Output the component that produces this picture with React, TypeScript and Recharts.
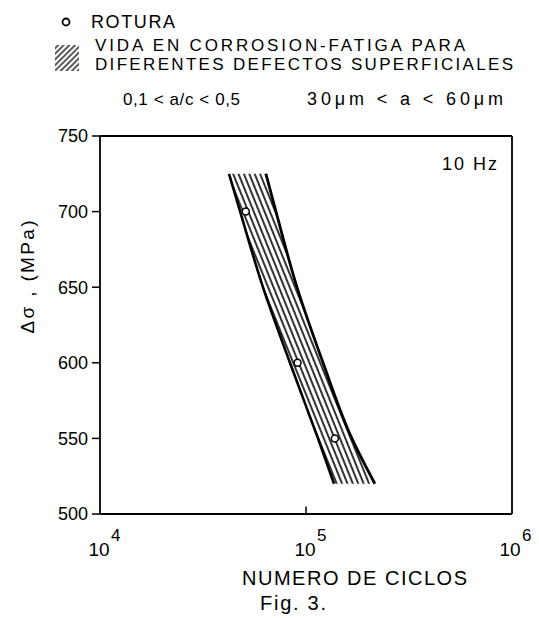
import React from 'react';
import { ComposedChart, Area, Line, Scatter, XAxis, YAxis, ReferenceLine } from 'recharts';

// stress range (MPa) along the band, and the cycle counts of its two edges
const bandStress = [725, 700, 650, 600, 550, 520];
const bandLeft = [42300, 47900, 61800, 83600, 114300, 136800];
const bandRight = [63900, 71500, 90400, 121000, 167000, 216000];

// rotura points
const ruptureCycles = [51000, 91000, 138000];
const ruptureStress = [700, 600, 550];

const xTicks = [1e4, 1e5, 1e6];
const xTickExp = ['4', '5', '6'];
const yTicks = [500, 550, 600, 650, 700, 750];

const band = bandStress.map((s, i) => ({
  s,
  range: [bandLeft[i], bandRight[i]],
  left: bandLeft[i],
  right: bandRight[i],
}));
const rupture = ruptureCycles.map((n, i) => ({ n, s: ruptureStress[i] }));

const font = '"Liberation Sans", Arial, sans-serif';

const LogTick = (props: any) => {
  const { x, y, payload } = props;
  const exp = xTickExp[xTicks.indexOf(payload.value)];
  return (
    <g fontFamily={font} fill="#000">
      <text x={x - 1} y={y + 34} textAnchor="middle" fontSize={19}>10</text>
      <text x={x + 11} y={y + 19} fontSize={17}>{exp}</text>
    </g>
  );
};

const Ring = (props: any) => (
  <circle cx={props.cx} cy={props.cy} r={3.5} fill="#fff" stroke="#000" strokeWidth={1.5} />
);

export default function App() {
  return (
    <div style={{ position: 'absolute', left: 0, top: 0, background: '#fff' }}>
      <ComposedChart
        width={539}
        height={618}
        layout="vertical"
        data={band}
        margin={{ top: 136, right: 27, bottom: 54, left: 0 }}
      >
        <defs>
          <pattern id="hatch" patternUnits="userSpaceOnUse" width={5} height={5} patternTransform="rotate(-22)">
            <line x1={1} y1={0} x2={1} y2={5} stroke="#000" strokeWidth={1.6} />
          </pattern>
          <pattern id="hatchLegend" patternUnits="userSpaceOnUse" width={4} height={4} patternTransform="rotate(45)">
            <line x1={1} y1={0} x2={1} y2={4} stroke="#000" strokeWidth={1.3} />
          </pattern>
        </defs>

        <XAxis
          type="number"
          dataKey="n"
          scale="log"
          domain={[1e4, 1e6]}
          ticks={xTicks}
          tick={<LogTick />}
          tickLine={false}
          axisLine={{ stroke: '#000', strokeWidth: 1.8 }}
          height={50}
          allowDataOverflow
        />
        <YAxis
          type="number"
          dataKey="s"
          domain={[500, 750]}
          ticks={yTicks}
          reversed
          width={100}
          tickSize={8}
          tickMargin={4}
          tick={{ fill: '#000', fontSize: 18, fontFamily: font }}
          tickLine={{ stroke: '#000', strokeWidth: 1.5 }}
          axisLine={{ stroke: '#000', strokeWidth: 1.8 }}
          allowDataOverflow
        />

        <ReferenceLine y={750} stroke="#000" strokeWidth={1.8} />
        <ReferenceLine x={1e6} stroke="#000" strokeWidth={1.8} />
        <ReferenceLine
          segment={[{ x: 1e5, y: 500 }, { x: 1e5, y: 505 }]}
          stroke="#000"
          strokeWidth={1.5}
        />

        <Area
          dataKey="range"
          type="monotone"
          stroke="none"
          fill="url(#hatch)"
          fillOpacity={1}
          isAnimationActive={false}
        />
        <Line dataKey="left" type="monotone" stroke="#000" strokeWidth={2.6} dot={false} isAnimationActive={false} />
        <Line dataKey="right" type="monotone" stroke="#000" strokeWidth={2.8} dot={false} isAnimationActive={false} />
        <Scatter data={rupture} dataKey="s" shape={<Ring />} isAnimationActive={false} />

        {/* legend and annotations */}
        <g fontFamily={font} fill="#000">
          <circle cx={66} cy={22} r={3.5} fill="#fff" stroke="#000" strokeWidth={1.8} />
          <text x={91} y={28} fontSize={18} textLength={84} lengthAdjust="spacing">ROTURA</text>
          <rect x={55} y={45} width={24} height={26} fill="url(#hatchLegend)" />
          <text x={95} y={51} fontSize={17} textLength={370} lengthAdjust="spacing">VIDA EN CORROSION-FATIGA PARA</text>
          <text x={95} y={70} fontSize={17} textLength={418} lengthAdjust="spacing">DIFERENTES DEFECTOS SUPERFICIALES</text>
          <text x={123} y={105} fontSize={17} textLength={117} lengthAdjust="spacing">0,1 &lt; a/c &lt; 0,5</text>
          <text x={307} y={105} fontSize={18} textLength={196} lengthAdjust="spacing">30μm &lt; a &lt; 60μm</text>
          <text x={442} y={170} fontSize={18} textLength={55} lengthAdjust="spacing">10 Hz</text>
          <text x={34} y={277} fontSize={19} textAnchor="middle" textLength={113} lengthAdjust="spacing" transform="rotate(-90 34 277)">Δσ , (MPa)</text>
          <text x={242} y={585} fontSize={20} textLength={225} lengthAdjust="spacing">NUMERO DE CICLOS</text>
          <text x={260} y={610} fontSize={20} textLength={66} lengthAdjust="spacing">Fig. 3.</text>
        </g>
      </ComposedChart>
    </div>
  );
}
